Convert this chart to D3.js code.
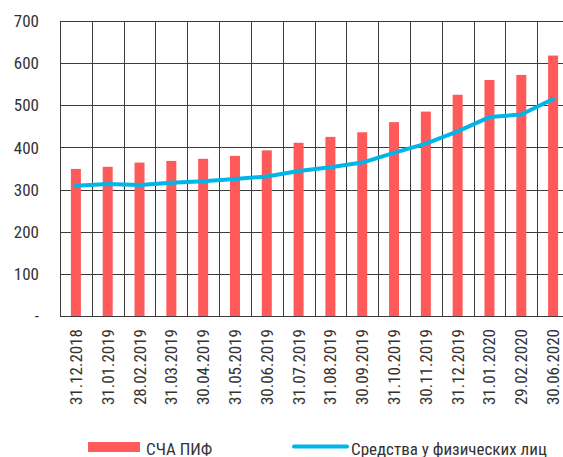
<!DOCTYPE html>
<meta charset="utf-8">
<style>
body { margin: 0; background: #fff; }
text { font-family: "Liberation Sans Narrow", "Roboto Condensed", "Liberation Sans", sans-serif; fill: #333; }
</style>
<svg width="563" height="457"></svg>
<script src="https://d3js.org/d3.v7.min.js"></script>
<script>

var dates = ["31.12.2018","31.01.2019","28.02.2019","31.03.2019","30.04.2019","31.05.2019","30.06.2019","31.07.2019","31.08.2019","30.09.2019","31.10.2019","30.11.2019","31.12.2019","31.01.2020","29.02.2020","30.06.2020"];
var scha = [349, 354, 364, 368, 373, 380, 393, 411, 425, 436, 460, 485, 525, 560, 572, 618];
var fiz = [309, 313, 311, 316, 320, 325, 331, 344, 353, 364, 387, 409, 438, 472, 478, 515];
var yTicks = [0, 100, 200, 300, 400, 500, 600, 700];

var svg = d3.select("svg");
var pLeft = 60, pRight = 569, pTop = 21, pBottom = 316;

var x = d3.scaleBand().domain(dates).range([pLeft, pRight]).padding(0);
var y = d3.scaleLinear().domain([0, 700]).range([pBottom, pTop]);

// grid
var grid = svg.append("g").attr("class", "grid").attr("stroke", "#3c3c3c").attr("stroke-width", 1);
grid.selectAll("line.h").data(yTicks).enter().append("line")
    .attr("x1", pLeft).attr("x2", pRight)
    .attr("y1", function(d) { return Math.round(y(d)) + 0.5; })
    .attr("y2", function(d) { return Math.round(y(d)) + 0.5; });
grid.selectAll("line.v").data(dates.concat(["end"])).enter().append("line")
    .attr("x1", function(d, i) { return Math.round(pLeft + i * x.bandwidth()) + 0.5; })
    .attr("x2", function(d, i) { return Math.round(pLeft + i * x.bandwidth()) + 0.5; })
    .attr("y1", pTop).attr("y2", pBottom);

// bars
var bw = 10;
svg.append("g").selectAll("rect").data(scha).enter().append("rect")
    .attr("x", function(d, i) { return x(dates[i]) + x.bandwidth() / 2 - bw / 2; })
    .attr("y", function(d) { return y(d); })
    .attr("width", bw)
    .attr("height", function(d) { return pBottom - y(d); })
    .attr("fill", "#ff5a5a");

// line
var line = d3.line()
    .x(function(d, i) { return x(dates[i]) + x.bandwidth() / 2; })
    .y(function(d) { return y(d); });
svg.append("path").datum(fiz)
    .attr("d", line)
    .attr("fill", "none")
    .attr("stroke", "#00b5e8")
    .attr("stroke-width", 4)
    .attr("stroke-linecap", "round")
    .attr("stroke-linejoin", "round");

// y labels
svg.append("g").selectAll("text").data(yTicks).enter().append("text")
    .attr("x", 39).attr("y", function(d) { return y(d); })
    .attr("dy", "0.36em")
    .attr("text-anchor", "end")
    .attr("font-size", 17)
    .text(function(d) { return d === 0 ? "-" : d; });

// x labels
svg.append("g").selectAll("text").data(dates).enter().append("text")
    .attr("transform", function(d) { return "translate(" + (x(d) + x.bandwidth() / 2 + 6) + ",329) rotate(-90)"; })
    .attr("text-anchor", "end")
    .attr("font-size", 17)
    .text(function(d) { return d; });

// legend
var lg = svg.append("g");
lg.append("rect").attr("x", 88).attr("y", 442).attr("width", 52).attr("height", 10).attr("fill", "#ff5a5a");
lg.append("text").attr("x", 146).attr("y", 454.5).attr("font-size", 17).text("СЧА ПИФ");
lg.append("line").attr("x1", 294).attr("x2", 347).attr("y1", 446.5).attr("y2", 446.5)
    .attr("stroke", "#00b5e8").attr("stroke-width", 4).attr("stroke-linecap", "round");
lg.append("text").attr("x", 351).attr("y", 454.5).attr("font-size", 17).text("Средства у физических лиц");

</script>
